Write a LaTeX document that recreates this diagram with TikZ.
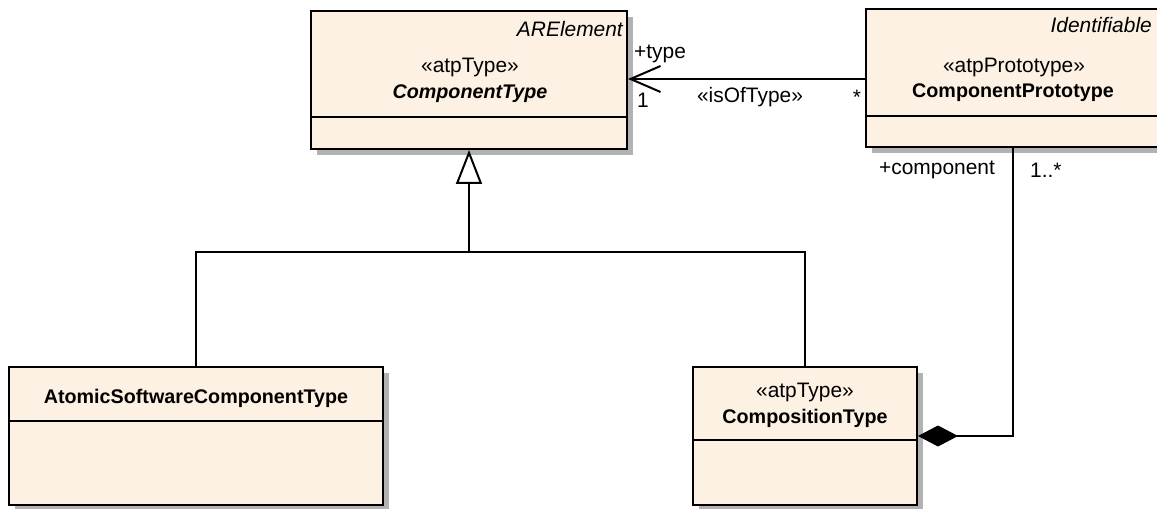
\documentclass[tikz,border=0pt]{standalone}
\usepackage{fontspec}
\setmainfont{Liberation Sans}
\usetikzlibrary{arrows.meta,shadows}
\definecolor{classfill}{RGB}{252,241,226}
\definecolor{shadowgray}{RGB}{178,178,178}
\tikzset{
  classbox/.style={draw=black, line width=2bp, fill=classfill, inner sep=0pt,
    drop shadow={shadow xshift=6bp, shadow yshift=-6bp, fill=shadowgray, opacity=1}},
  divider/.style={line width=2bp},
  conn/.style={line width=2bp},
  gen/.style={conn, -{Triangle[open, length=34bp, width=26bp, fill=white, line width=2bp]}},
  assoc/.style={conn, -{Straight Barb[length=30bp, width=26bp, line width=2bp]}},
  compo/.style={conn, -{Diamond[length=40bp, width=21bp, fill=black, line width=1bp]}},
  txt/.style={font=\fontsize{21}{24}\selectfont, inner sep=0pt},
  nametxt/.style={txt, font=\fontsize{19.8}{23}\selectfont\bfseries},
  abstxt/.style={txt, font=\fontsize{19.8}{23}\selectfont\bfseries\itshape},
  partxt/.style={txt, font=\fontsize{21}{24}\selectfont\itshape}
}
\begin{document}
\begin{tikzpicture}[x=1bp, y=-1bp]
\useasboundingbox (0,0) rectangle (1157,509);
\clip (0,0) rectangle (1157,509);
% class boxes
\node[classbox, minimum width=316bp, minimum height=138bp] (ct) at (469,80) {};
\node[classbox, minimum width=294bp, minimum height=138bp] (cp) at (1013,78) {};
\node[classbox, minimum width=374bp, minimum height=138bp] (atomic) at (196,436) {};
\node[classbox, minimum width=224bp, minimum height=138bp] (comp) at (805,436) {};
% dividers
\coordinate (dct) at (0,117);
\coordinate (dcp) at (0,116);
\coordinate (dat) at (0,421);
\coordinate (dco) at (0,440);
\draw[divider] (ct.west |- dct) -- (ct.east |- dct);
\draw[divider] (cp.west |- dcp) -- (cp.east |- dcp);
\draw[divider] (atomic.west |- dat) -- (atomic.east |- dat);
\draw[divider] (comp.west |- dco) -- (comp.east |- dco);
% texts in boxes
\node[partxt, anchor=east] (ctpar) at (623,29) {ARElement};
\node[txt] (ctst) at (470,67) {«atpType»};
\node[abstxt] (ctname) at (470,94) {ComponentType};
\node[partxt, anchor=east] (cppar) at (1152,25) {Identifiable};
\node[txt] (cpst) at (1014,67) {«atpPrototype»};
\node[nametxt] (cpname) at (1013,93) {ComponentPrototype};
\node[nametxt] (atname) at (196,398) {AtomicSoftwareComponentType};
\node[txt] (cost) at (805,392) {«atpType»};
\node[nametxt] (coname) at (805,418) {CompositionType};
% generalization
\coordinate (j) at (469,252);
\draw[conn] (atomic.north) |- (j) -| (comp.north);
\draw[gen] (j) -- (ct.south);
% association
\coordinate (ay) at (0,79);
\draw[assoc] (cp.west |- ay) -- (ct.east |- ay);
\node[txt, anchor=west] (ltype) at (634,54) {+type};
\node[txt, anchor=west] (lone) at (637,100) {1};
\node[txt] (lisof) at (750,97) {«isOfType»};
\node[txt] (lstar) at (857,97) {*};
% composition
\draw[compo] (cp.south) |- (comp.east);
\node[txt] (lcomp) at (937,170) {+component};
\node[txt, anchor=west] (lmult) at (1030,170) {1..*};
\end{tikzpicture}
\end{document}
